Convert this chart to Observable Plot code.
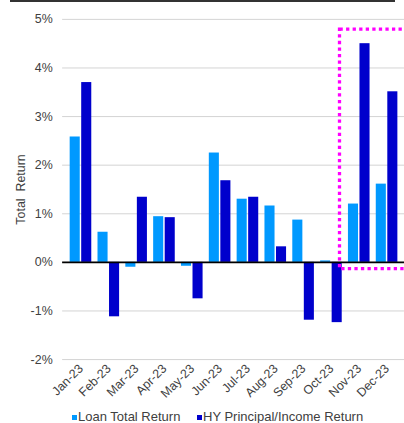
<!DOCTYPE html>
<html>
<head>
<meta charset="utf-8">
<script src="https://cdn.jsdelivr.net/npm/d3@7"></script>
<script src="https://cdn.jsdelivr.net/npm/@observablehq/plot@0.6"></script>
<style>
  html, body { margin: 0; padding: 0; overflow: hidden; background: #fff; }
  #wrap { position: relative; width: 404px; height: 423px; overflow: hidden; font-family: 'Liberation Sans', Arial, sans-serif; }
  #topline { position: absolute; left: 10px; top: 0; width: 385px; height: 1.5px; background: #333; }
  #legend { position: absolute; left: 0; top: 408.5px; width: 404px; font-size: 13px; line-height: 15px; color: #404040; white-space: nowrap; }
  .item { position: absolute; top: 0; }
  .swatch { display: inline-block; width: 4.5px; height: 4.5px; margin-right: 1.5px; vertical-align: 1px; }
</style>
</head>
<body>
<div id="wrap">
  <div id="topline"></div>
  <div id="chart"></div>
  <div id="legend"></div>
</div>
<script>
// Monthly returns, 2023 (percent)
const months = ["Jan-23", "Feb-23", "Mar-23", "Apr-23", "May-23", "Jun-23",
                "Jul-23", "Aug-23", "Sep-23", "Oct-23", "Nov-23", "Dec-23"];
const seriesNames = ["Loan Total Return", "HY Principal/Income Return"];
const loanReturn = [2.58, 0.62, -0.10, 0.94, -0.08, 2.25, 1.30, 1.16, 0.87, 0.03, 1.20, 1.61];
const hyReturn   = [3.70, -1.12, 1.34, 0.92, -0.75, 1.68, 1.34, 0.32, -1.19, -1.24, 4.50, 3.51];
const yTicks = [-2, -1, 0, 1, 2, 3, 4, 5];
const seriesColors = ["#0099ff", "#0000cc"];

// Highlight box around the last two months
const highlight = [{month: "Nov-23", low: -0.14, high: 4.79}];

const loanRows = months.map((m, i) => ({month: m, value: loanReturn[i]}));
const hyRows = months.map((m, i) => ({month: m, value: hyReturn[i]}));

const width = 406.5, marginLeft = 62.5, marginRight = 0;
const step = (width - marginLeft - marginRight) / months.length;
const outerPad = 3.1, barW = 10.8, gap = 0.8;

const chart = Plot.plot({
  width,
  height: 405,
  marginLeft,
  marginRight,
  marginTop: 19,
  marginBottom: 43.7,
  style: {
    fontFamily: "'Liberation Sans', Arial, sans-serif",
    fontSize: "12.5px",
    color: "#404040",
    background: "transparent"
  },
  x: {
    domain: months,
    padding: 0,
    tickSize: 0,
    tickRotate: -45,
    tickPadding: 7,
    label: null
  },
  y: {
    domain: [-2, 5],
    ticks: yTicks,
    tickFormat: d => d + "%",
    tickSize: 0,
    tickPadding: 10,
    label: "Total\u00a0 Return",
    labelArrow: "none",
    labelAnchor: "center",
    labelOffset: 47
  },
  marks: [
    Plot.ruleY(yTicks, {stroke: "#d4d4d4", strokeWidth: 1}),
    Plot.barY(loanRows, {
      x: "month", y: "value", fill: seriesColors[0],
      insetLeft: outerPad, insetRight: step - outerPad - barW
    }),
    Plot.barY(hyRows, {
      x: "month", y: "value", fill: seriesColors[1],
      insetLeft: outerPad + barW + gap, insetRight: step - outerPad - 2 * barW - gap
    }),
    Plot.ruleY([0], {stroke: "#000", strokeWidth: 1.75}),
    Plot.barY(highlight, {
      x: "month", y1: "low", y2: "high",
      fill: "none", stroke: "#ff00ff", strokeWidth: 3.3, strokeDasharray: "3.3,3.3",
      insetLeft: -5.4, insetRight: -40
    })
  ]
});
document.getElementById("chart").appendChild(chart);

// Legend below the chart
const legend = document.getElementById("legend");
const legendLeft = [72, 197];
seriesNames.forEach((name, i) => {
  const item = document.createElement("span");
  item.className = "item";
  item.style.left = legendLeft[i] + "px";
  const sw = document.createElement("span");
  sw.className = "swatch";
  sw.style.background = seriesColors[i];
  item.appendChild(sw);
  item.appendChild(document.createTextNode(name));
  legend.appendChild(item);
});
</script>
</body>
</html>
